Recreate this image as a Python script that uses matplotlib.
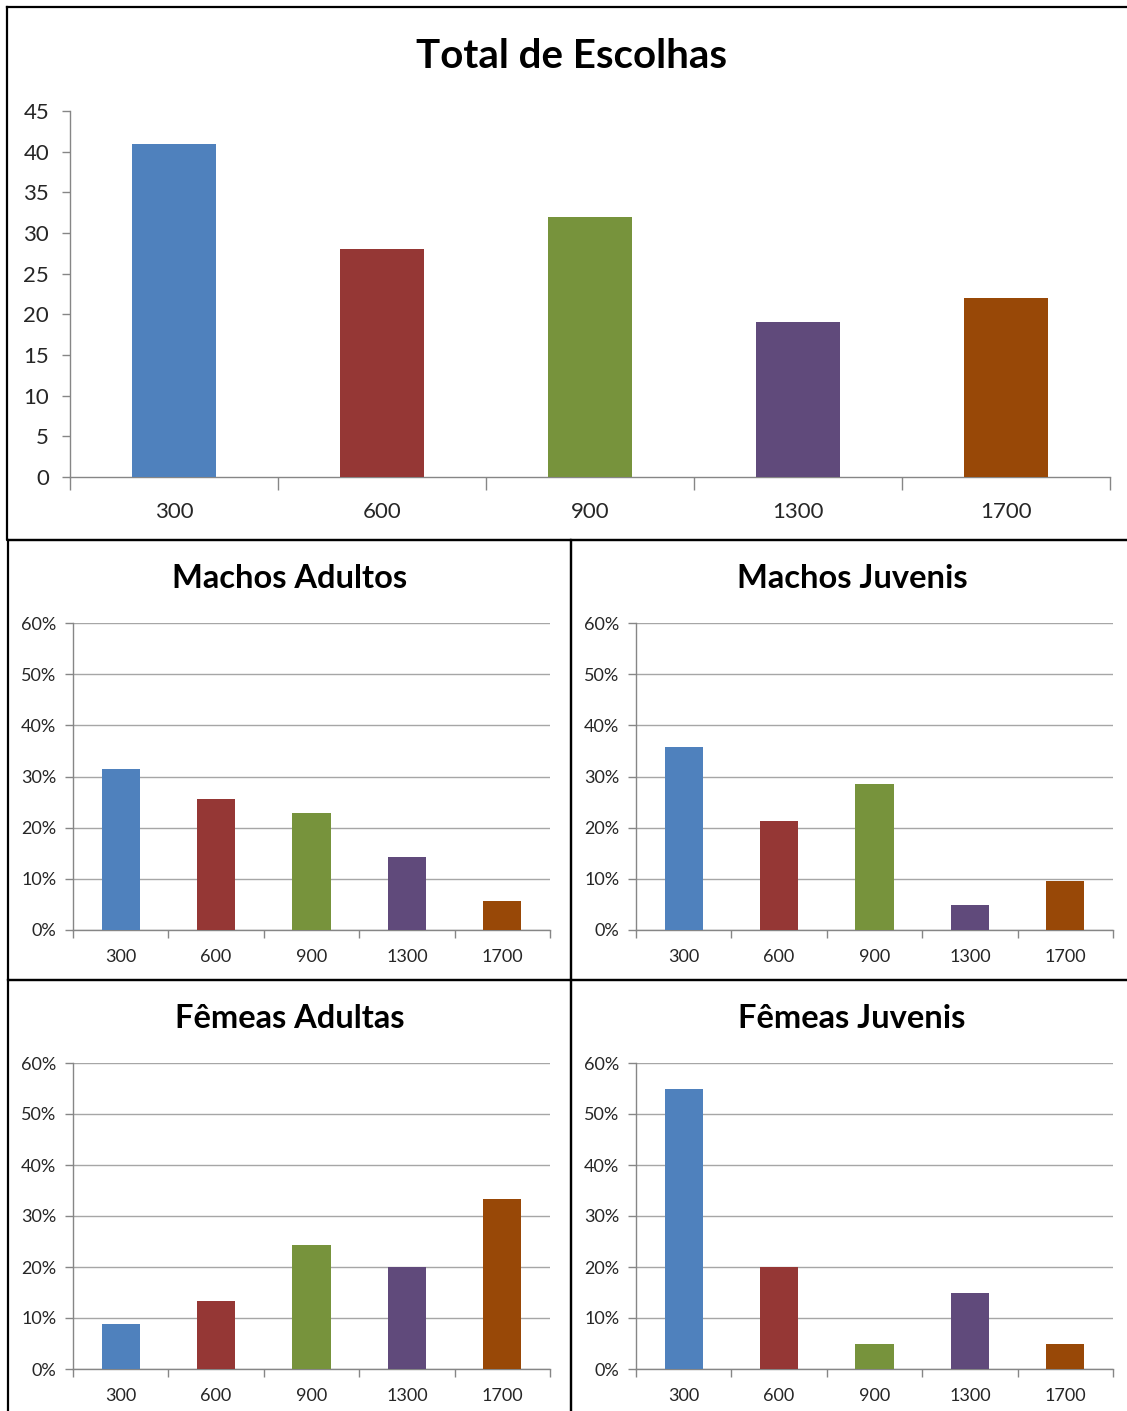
import matplotlib
matplotlib.use("Agg")
import matplotlib.pyplot as plt
from matplotlib.lines import Line2D
import numpy as np

plt.rcParams['font.family'] = ['Lato', 'DejaVu Sans']

categories = ['300', '600', '900', '1300', '1700']
colors = ['#4F81BD', '#953735', '#77933C', '#604A7B', '#984807']

total_escolhas = [41, 28, 32, 19, 22]
machos_adultos = [31.4, 25.7, 22.9, 14.3, 5.7]
machos_juvenis = [35.7, 21.4, 28.6, 4.8, 9.5]
femeas_adultas = [8.9, 13.3, 24.4, 20.0, 33.3]
femeas_juvenis = [55.0, 20.0, 5.0, 15.0, 5.0]

W, H = 1127, 1411
fig = plt.figure(figsize=(W / 100, H / 100), dpi=100)
fig.patch.set_facecolor('white')


def rect(x0, y0, x1, y1):
    return [x0 / W, 1 - y1 / H, (x1 - x0) / W, (y1 - y0) / H]


def frame(x0, y0, x1, y1):
    xs = [x0 / W, x1 / W, x1 / W, x0 / W, x0 / W]
    ys = [1 - y0 / H, 1 - y0 / H, 1 - y1 / H, 1 - y1 / H, 1 - y0 / H]
    fig.add_artist(Line2D(xs, ys, color='black', lw=1.6, transform=fig.transFigure))


axis_col = '#868686'
grid_col = '#A6A6A6'


def style_axis(ax, n, ticklen):
    for s in ['top', 'right']:
        ax.spines[s].set_visible(False)
    for s in ['left', 'bottom']:
        ax.spines[s].set_color(axis_col)
        ax.spines[s].set_linewidth(1.0)
    ax.set_xlim(0, n)
    ax.set_xticks(np.arange(0, n + 1))
    ax.set_xticklabels([])
    ax.set_xticks(np.arange(n) + 0.5, minor=True)
    ax.set_xticklabels(categories, minor=True)
    ax.tick_params(axis='x', which='major', direction='out', length=ticklen,
                   color=axis_col, width=1.0)
    ax.tick_params(axis='x', which='minor', length=0)
    ax.tick_params(axis='y', direction='out', length=6, color=axis_col, width=1.0)


# ---- Top chart ----
ax0 = fig.add_axes(rect(70, 111, 1110, 477))
x = np.arange(len(categories)) + 0.5
ax0.bar(x, total_escolhas, width=0.4, color=colors, zorder=3)
style_axis(ax0, len(categories), 9)
ax0.set_ylim(0, 45)
ax0.set_yticks(np.arange(0, 46, 5))
ax0.tick_params(axis='y', labelsize=16, pad=9)
ax0.tick_params(axis='x', which='minor', labelsize=16, pad=18)
for t in ax0.get_yticklabels() + ax0.get_xticklabels(minor=True):
    t.set_color('#262626')
fig.text(571 / W, 1 - 56 / H, 'Total de Escolhas', ha='center', va='center',
         fontsize=29, fontweight='bold')
frame(7, 7, 1140, 540)

# ---- Small charts ----
panels = [
    ('Machos Adultos', machos_adultos, (73, 623, 550, 930), (8, 540, 571, 980), 290, 579),
    ('Machos Juvenis', machos_juvenis, (636, 623, 1113, 930), (571, 540, 1140, 980), 852, 579),
    ('Fêmeas Adultas', femeas_adultas, (73, 1063, 550, 1369), (8, 980, 571, 1420), 290, 1018),
    ('Fêmeas Juvenis', femeas_juvenis, (636, 1063, 1113, 1369), (571, 980, 1140, 1420), 852, 1018),
]

for title, vals, (l, t, r, b), fr, tx, ty in panels:
    ax = fig.add_axes(rect(l, t, r, b))
    ax.bar(x, vals, width=0.4, color=colors, zorder=3)
    style_axis(ax, len(categories), 6)
    ax.set_ylim(0, 60)
    ax.set_yticks(np.arange(0, 61, 10))
    ax.set_yticklabels([f'{v}%' for v in range(0, 61, 10)])
    ax.yaxis.grid(True, color=grid_col, lw=1.0, zorder=0)
    ax.set_axisbelow(True)
    ax.tick_params(axis='y', labelsize=13, pad=6)
    ax.tick_params(axis='x', which='minor', labelsize=13, pad=14)
    for tl in ax.get_yticklabels() + ax.get_xticklabels(minor=True):
        tl.set_color('#262626')
    fig.text(tx / W, 1 - ty / H, title,
             ha='center', va='center', fontsize=23.5, fontweight='bold')
    frame(*fr)

fig.savefig('out.png', dpi=100, facecolor='white')
